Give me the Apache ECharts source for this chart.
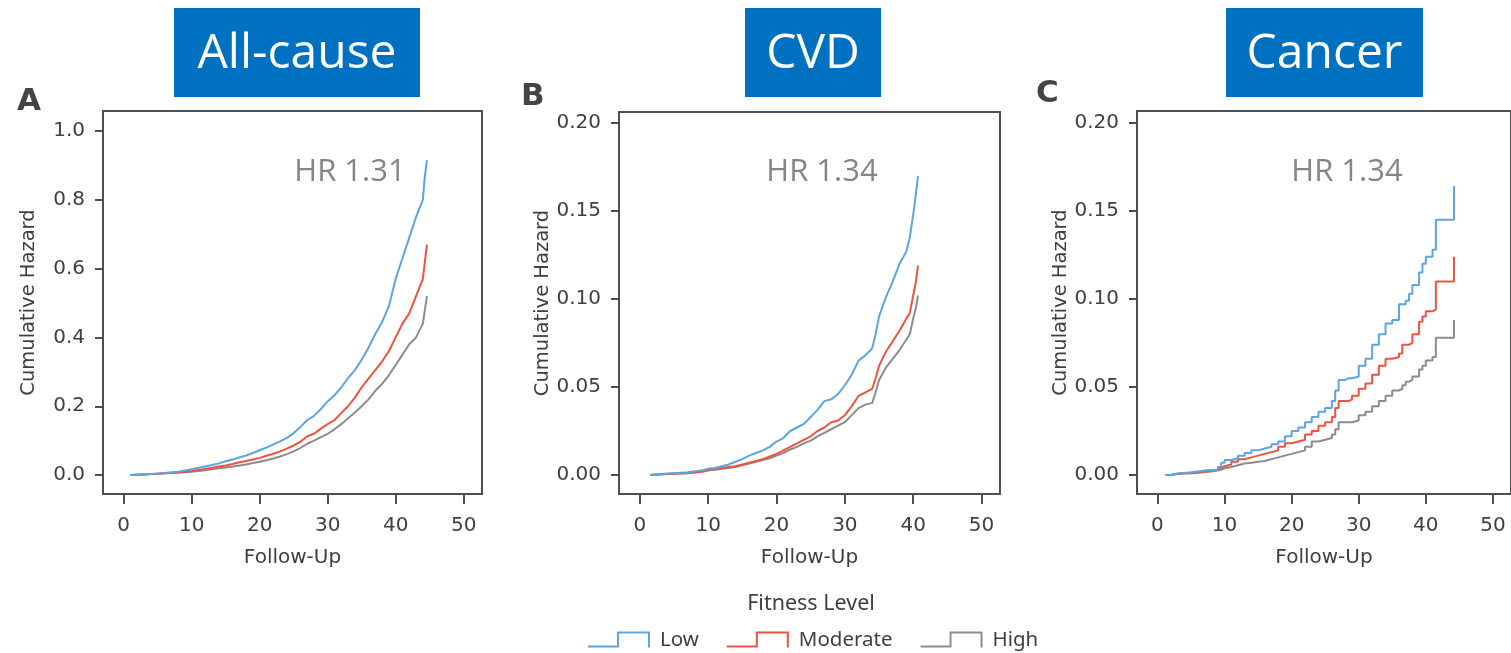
<!DOCTYPE html>
<html>
<head>
<meta charset="utf-8">
<script src="https://cdn.jsdelivr.net/npm/echarts@6/dist/echarts.min.js"></script>
<style>
html,body{margin:0;padding:0;background:#fff;}
#chart{width:1511px;height:653px;}
</style>
</head>
<body>
<div id="chart"></div>
<script>
// ---------- Data ----------
const panelTitles = ['All-cause', 'CVD', 'Cancer'];
const panelLetters = ['A', 'B', 'C'];
const hrLabels = ['HR 1.31', 'HR 1.34', 'HR 1.34'];
const seriesNames = ['Low', 'Moderate', 'High'];
const xTicks = [0, 10, 20, 30, 40, 50];
const yTicksA = [0, 0.2, 0.4, 0.6, 0.8, 1.0];
const yTicksBC = [0, 0.05, 0.10, 0.15, 0.20];

// Panel A: all-cause
const timeA = [1,2,3,4,5,6,7,8,9,10,11,12,13,14,15,16,17,18,19,20,21,22,23,24,25,26,27,28,29,30,31,32,33,34,35,36,37,38,39,40,41,42,43,44,44.3,44.6];
const lowA = [0,0.001,0.002,0.003,0.004,0.006,0.008,0.010,0.013,0.017,0.021,0.025,0.029,0.034,0.040,0.045,0.051,0.057,0.064,0.072,0.080,0.089,0.098,0.108,0.122,0.140,0.160,0.172,0.192,0.214,0.232,0.255,0.282,0.305,0.335,0.370,0.410,0.445,0.490,0.570,0.630,0.690,0.750,0.800,0.870,0.915];
const modA = [0,0.001,0.002,0.003,0.004,0.005,0.006,0.008,0.010,0.012,0.015,0.018,0.021,0.025,0.028,0.032,0.037,0.041,0.045,0.050,0.056,0.062,0.069,0.077,0.086,0.097,0.113,0.120,0.135,0.148,0.160,0.180,0.200,0.225,0.255,0.280,0.305,0.330,0.360,0.400,0.440,0.470,0.520,0.570,0.620,0.670];
const highA = [0,0.001,0.002,0.003,0.004,0.005,0.006,0.007,0.008,0.010,0.012,0.014,0.017,0.020,0.022,0.025,0.028,0.031,0.035,0.039,0.043,0.048,0.054,0.061,0.069,0.079,0.091,0.100,0.110,0.120,0.133,0.148,0.165,0.182,0.200,0.220,0.245,0.265,0.290,0.320,0.350,0.380,0.400,0.440,0.480,0.520];

// Panel B: CVD
const timeB = [1.5,3,5,7,9,10,11,12,13,14,15,16,17,18,19,20,21,22,23,24,25,26,27,28,29,30,31,32,33,34,34.5,35,36,37,38,39,39.5,40,40.4,40.7];
const lowB = [0,0.0005,0.001,0.0015,0.0025,0.0035,0.004,0.005,0.006,0.0075,0.009,0.011,0.0125,0.014,0.016,0.019,0.021,0.025,0.027,0.029,0.033,0.037,0.042,0.043,0.046,0.051,0.057,0.065,0.068,0.072,0.080,0.090,0.101,0.110,0.120,0.127,0.135,0.148,0.160,0.170];
const modB = [0,0.0004,0.0008,0.0012,0.002,0.003,0.0035,0.004,0.0045,0.005,0.006,0.007,0.008,0.009,0.0105,0.012,0.014,0.016,0.018,0.020,0.022,0.025,0.027,0.030,0.031,0.034,0.039,0.045,0.047,0.049,0.055,0.062,0.070,0.076,0.082,0.089,0.092,0.102,0.110,0.119];
const highB = [0,0.0003,0.0007,0.001,0.0017,0.0025,0.003,0.0035,0.004,0.0045,0.0055,0.0065,0.0075,0.0085,0.0095,0.011,0.0125,0.0145,0.016,0.018,0.0195,0.022,0.024,0.026,0.028,0.030,0.034,0.038,0.040,0.041,0.047,0.054,0.061,0.066,0.071,0.077,0.080,0.089,0.095,0.102];

// Panel C: cancer
const timeC = [1.2,2,3,4,5,6,7,8,9,9.5,10,11,12,13,14,15,16,17,18,19,20,21,22,23,24,25,26,26.5,27,28,28.5,29,30,31,32,33,34,35,36,36.5,37,37.5,38,39,39.5,40,41,41.5,44.2];
const lowC = [0,0.0008,0.0012,0.0015,0.002,0.0025,0.0028,0.003,0.0045,0.007,0.0085,0.0095,0.011,0.0125,0.014,0.015,0.016,0.0175,0.019,0.022,0.025,0.027,0.030,0.033,0.036,0.038,0.042,0.048,0.054,0.055,0.055,0.056,0.062,0.066,0.074,0.080,0.086,0.088,0.097,0.097,0.099,0.103,0.108,0.115,0.120,0.124,0.128,0.145,0.164];
const modC = [0,0.0007,0.001,0.0012,0.0015,0.002,0.0025,0.003,0.004,0.005,0.006,0.0075,0.009,0.010,0.011,0.012,0.013,0.014,0.016,0.018,0.019,0.020,0.023,0.025,0.028,0.030,0.033,0.038,0.042,0.042,0.043,0.045,0.049,0.052,0.057,0.062,0.066,0.067,0.069,0.074,0.074,0.075,0.080,0.087,0.090,0.093,0.094,0.110,0.124];
const highC = [0,0.0005,0.0008,0.001,0.0012,0.0016,0.002,0.0025,0.003,0.0038,0.0045,0.0055,0.0065,0.007,0.0075,0.008,0.009,0.010,0.011,0.012,0.013,0.014,0.016,0.019,0.020,0.021,0.023,0.026,0.030,0.030,0.030,0.031,0.034,0.036,0.039,0.042,0.045,0.048,0.049,0.051,0.053,0.054,0.056,0.060,0.062,0.065,0.067,0.078,0.088];

// ---------- Styling / layout ----------
const colors = ['#5DA5DE', '#EF5240', '#8C8C8C'];
const frameColor = '#4f4f4f';
const textColor = '#3f3f3f';
const labelFont = 'DejaVu Sans';

const panels = [
  {time: timeA, vals: [lowA, modA, highA], yTicks: yTicksA, dec: 1, yMin: -0.055, yMax: 1.058, step: false,
   grid: {left: 103, top: 111, width: 379, height: 383}},
  {time: timeB, vals: [lowB, modB, highB], yTicks: yTicksBC, dec: 2, yMin: -0.0108, yMax: 0.2063, step: false,
   grid: {left: 619, top: 112, width: 381, height: 382}},
  {time: timeC, vals: [lowC, modC, highC], yTicks: yTicksBC, dec: 2, yMin: -0.0108, yMax: 0.2068, step: 'end',
   grid: {left: 1137, top: 111, width: 381, height: 383}}
];
const titleBoxes = [
  {x: 174, y: 8, w: 246, h: 89},
  {x: 745, y: 8, w: 136, h: 89},
  {x: 1226, y: 8, w: 197, h: 89}
];
const letterPos = [[17, 86], [521, 81], [1036, 78]];
const hrPos = [[350, 172], [822, 172], [1347, 172]];

const grids = [], xAxes = [], yAxes = [], series = [];
panels.forEach((p, i) => {
  grids.push(Object.assign({show: true, borderColor: frameColor, borderWidth: 2, backgroundColor: 'transparent'}, p.grid));
  xAxes.push({
    type: 'value', gridIndex: i, min: -3.05, max: 52.7,
    name: 'Follow-Up', nameLocation: 'middle', nameGap: 54,
    nameTextStyle: {fontFamily: labelFont, fontSize: 20, color: textColor},
    axisLine: {show: false, onZero: false},
    axisTick: {show: true, length: 10, customValues: xTicks, lineStyle: {color: frameColor, width: 2}},
    axisLabel: {customValues: xTicks, margin: 22, fontFamily: labelFont, fontSize: 20, color: textColor},
    splitLine: {show: false}
  });
  yAxes.push({
    type: 'value', gridIndex: i, min: p.yMin, max: p.yMax,
    name: 'Cumulative Hazard', nameLocation: 'middle', nameGap: 64,
    nameTextStyle: {fontFamily: labelFont, fontSize: 19.5, color: textColor},
    axisLine: {show: false, onZero: false},
    axisTick: {show: true, length: 8, customValues: p.yTicks, lineStyle: {color: frameColor, width: 2}},
    axisLabel: {customValues: p.yTicks, margin: 18, fontFamily: labelFont, fontSize: 20, color: textColor,
      formatter: v => v.toFixed(p.dec)},
    splitLine: {show: false}
  });
  p.vals.forEach((vals, k) => {
    series.push({
      name: seriesNames[k], type: 'line', step: p.step, xAxisIndex: i, yAxisIndex: i,
      showSymbol: false, symbol: 'none', z: 10 - k,
      lineStyle: {color: colors[k], width: 2},
      itemStyle: {color: colors[k]},
      data: p.time.map((t, j) => [t, vals[j]])
    });
  });
});

const graphics = [];
titleBoxes.forEach((b, i) => {
  graphics.push({type: 'rect', left: b.x, top: b.y, shape: {width: b.w, height: b.h}, style: {fill: '#0070C0'}});
  graphics.push({type: 'text', x: b.x + b.w / 2, y: b.y + b.h / 2 + 2,
    style: {text: panelTitles[i], fill: '#ffffff', font: '48px "Open Sans"', align: 'center', verticalAlign: 'middle'}});
});
panelLetters.forEach((l, i) => {
  graphics.push({type: 'text', x: letterPos[i][0], y: letterPos[i][1],
    style: {text: l, fill: '#444444', font: 'bold 31px "DejaVu Sans"', align: 'left', verticalAlign: 'top'}});
});
hrLabels.forEach((h, i) => {
  graphics.push({type: 'text', x: hrPos[i][0], y: hrPos[i][1], z: 20,
    style: {text: h, fill: '#858585', font: '31px "Open Sans"', align: 'center', verticalAlign: 'middle'}});
});
graphics.push({type: 'text', x: 811, y: 604,
  style: {text: 'Fitness Level', fill: textColor, font: '21.5px "Noto Sans"', align: 'center', verticalAlign: 'middle'}});

const option = {
  animation: false,
  backgroundColor: '#ffffff',
  grid: grids,
  xAxis: xAxes,
  yAxis: yAxes,
  series: series,
  legend: {
    data: seriesNames, left: 583, top: 625, orient: 'horizontal',
    itemWidth: 68, itemHeight: 18, itemGap: 28,
    icon: 'path://M0,14L29,14L29,0L62,0L62,16L60,16L60,2L31,2L31,16L0,16ZM66,18L66,18Z',
    textStyle: {fontFamily: 'Noto Sans', fontSize: 20.5, color: textColor}
  },
  graphic: graphics
};

const chart = echarts.init(document.getElementById('chart'), null, {renderer: 'canvas'});
chart.setOption(option);
</script>
</body>
</html>
